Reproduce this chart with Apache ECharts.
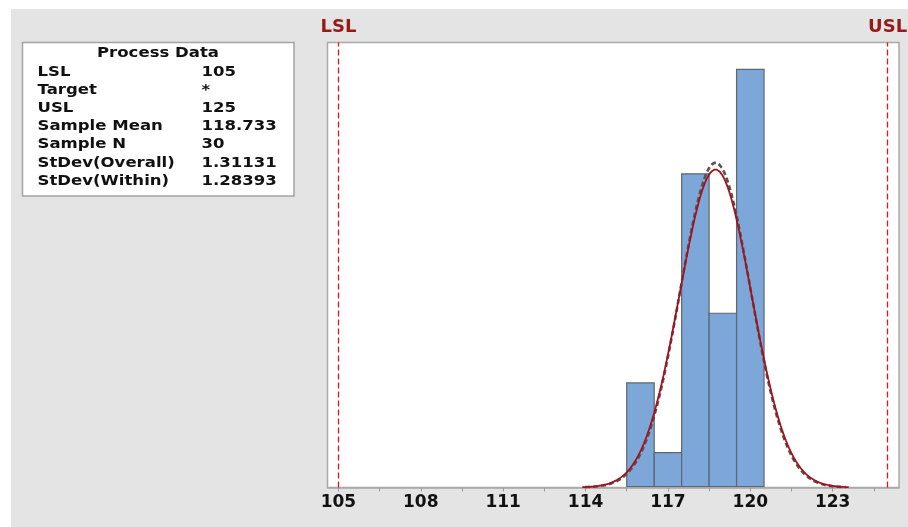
<!DOCTYPE html>
<html>
<head>
<meta charset="utf-8">
<script src="https://cdn.jsdelivr.net/npm/echarts@6/dist/echarts.min.js"></script>
<style>
  html, body { margin: 0; padding: 0; background: #fff; }
  #chart { width: 908px; height: 527px; }
</style>
</head>
<body>
<div id="chart"></div>
<script>
// Process capability data
const LSL = 105;
const USL = 125;
const sampleMean = 118.733;
const sampleN = 30;
const stdevOverall = 1.31131;
const stdevWithin = 1.28393;

// Histogram bins (width 1)
const binCenters = [116, 117, 118, 119, 120];
const binCounts = [3, 1, 9, 5, 12];
const binWidth = 1;

// Axis ticks and labels
const tickValues = [105, 106.5, 108, 109.5, 111, 112.5, 114, 115.5, 117, 118.5, 120, 121.5, 123, 124.5];
const labelValues = [105, 108, 111, 114, 117, 120, 123];

// Process Data table
const tableLabels = ['LSL', 'Target', 'USL', 'Sample Mean', 'Sample N', 'StDev(Overall)', 'StDev(Within)'];
const tableValues = ['105', '*', '125', '118.733', '30', '1.31131', '1.28393'];

// Fitted normal curve scaled to histogram counts
function normalCurve(mu, sigma) {
  const pts = [];
  const span = 3.7 * sigma;
  const steps = 200;
  for (let i = 0; i <= steps; i++) {
    const x = mu - span + (2 * span * i) / steps;
    const z = (x - mu) / sigma;
    const y = sampleN * binWidth * Math.exp(-0.5 * z * z) / (sigma * Math.sqrt(2 * Math.PI));
    pts.push([x, y]);
  }
  return pts;
}

const chart = echarts.init(document.getElementById('chart'));

const tableFont = 'bold 14.5px "DejaVu Sans"';
const tableScale = 1.14;
const tableGraphics = [
  { type: 'rect', z: -1, shape: { x: 11, y: 9, width: 897, height: 518 }, style: { fill: '#e4e4e4' } },
  { type: 'rect', shape: { x: 22.5, y: 42.5, width: 271.5, height: 153.5 }, style: { fill: '#ffffff', stroke: '#a3a3a3', lineWidth: 1.5 } },
  { type: 'text', x: 158, y: 53.5, scaleX: tableScale, style: { text: 'Process Data', font: tableFont, fill: '#111', textAlign: 'center', textVerticalAlign: 'middle' } }
];
tableLabels.forEach((lab, i) => {
  const y = 71.9 + i * 18.2;
  tableGraphics.push({ type: 'text', x: 37.5, y: y, scaleX: tableScale, style: { text: lab, font: tableFont, fill: '#111', textAlign: 'left', textVerticalAlign: 'middle' } });
  tableGraphics.push({ type: 'text', x: 201.5, y: y, scaleX: tableScale, style: { text: tableValues[i], font: tableFont, fill: '#111', textAlign: 'left', textVerticalAlign: 'middle' } });
});

const gridLeft = 327.5, gridTop = 42.5, gridRight = 899, gridBottom = 487.5;

chart.setOption({
  animation: false,
  backgroundColor: '#ffffff',
  graphic: tableGraphics,
  grid: {
    left: gridLeft, top: gridTop,
    width: gridRight - gridLeft, height: gridBottom - gridTop,
    show: true, backgroundColor: '#ffffff', borderColor: '#a9a9a9', borderWidth: 1.5
  },
  xAxis: {
    type: 'value',
    min: 104.603,
    max: 125.415,
    splitLine: { show: false },
    axisLine: { show: true, lineStyle: { color: '#a9a9a9', width: 1.5 } },
    axisTick: { show: true, customValues: tickValues, length: 4, lineStyle: { color: '#9a9a9a' } },
    axisLabel: {
      customValues: labelValues,
      margin: 7,
      color: '#111',
      fontFamily: 'DejaVu Sans',
      fontWeight: 'bold',
      fontSize: 17
    }
  },
  yAxis: {
    type: 'value',
    min: 0,
    max: 12.77,
    show: false,
    splitLine: { show: false }
  },
  series: [
    {
      type: 'custom',
      name: 'Histogram',
      data: binCenters.map((c, i) => [c, binCounts[i]]),
      renderItem: function (params, api) {
        const c = api.value(0);
        const n = api.value(1);
        const p0 = api.coord([c - binWidth / 2, 0]);
        const p1 = api.coord([c + binWidth / 2, n]);
        return {
          type: 'rect',
          shape: { x: p0[0], y: p1[1], width: p1[0] - p0[0], height: p0[1] - p1[1] - 1 },
          style: { fill: '#7da7d9', stroke: '#5e6670', lineWidth: 1.2 }
        };
      },
      z: 2
    },
    {
      type: 'line',
      name: 'Within',
      data: normalCurve(sampleMean, stdevWithin),
      showSymbol: false,
      smooth: false,
      lineStyle: { color: '#555555', width: 2.6, type: [5, 3] },
      z: 3
    },
    {
      type: 'line',
      name: 'Overall',
      data: normalCurve(sampleMean, stdevOverall),
      showSymbol: false,
      smooth: false,
      lineStyle: { color: '#a3121c', width: 1.8 },
      z: 4,
      markLine: {
        symbol: 'none',
        silent: true,
        lineStyle: { color: '#e3161b', type: [6, 3], width: 1.3 },
        label: {
          position: 'end',
          distance: 6,
          color: '#951b1b',
          fontFamily: 'DejaVu Sans',
          fontWeight: 'bold',
          fontSize: 18
        },
        data: [
          { xAxis: LSL, label: { formatter: 'LSL' } },
          { xAxis: USL, label: { formatter: 'USL' } }
        ]
      }
    }
  ]
});
</script>
</body>
</html>
